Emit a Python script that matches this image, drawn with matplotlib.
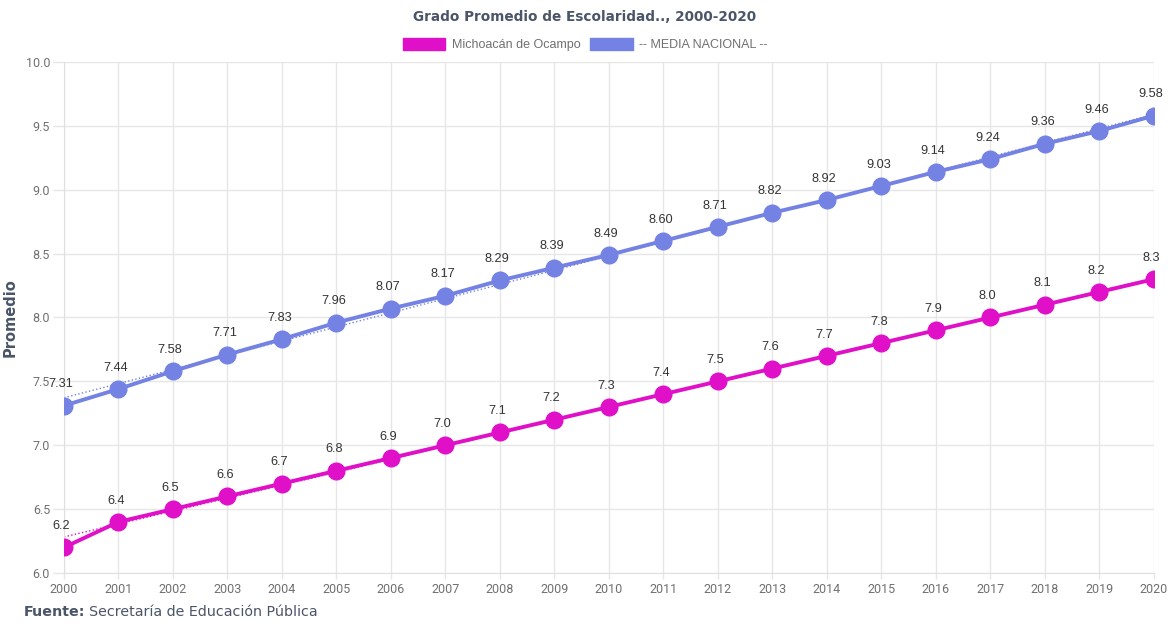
import matplotlib.pyplot as plt
import numpy as np
from matplotlib.patches import Patch

# Data
years = list(range(2000, 2021))
michoacan = [6.2, 6.4, 6.5, 6.6, 6.7, 6.8, 6.9, 7.0, 7.1, 7.2, 7.3,
             7.4, 7.5, 7.6, 7.7, 7.8, 7.9, 8.0, 8.1, 8.2, 8.3]
nacional = [7.31, 7.44, 7.58, 7.71, 7.83, 7.96, 8.07, 8.17, 8.29, 8.39, 8.49,
            8.60, 8.71, 8.82, 8.92, 9.03, 9.14, 9.24, 9.36, 9.46, 9.58]
mich_labels = ['%.1f' % v for v in michoacan]
nac_labels = ['%.2f' % v for v in nacional]

mag = '#e010c8'
blue = '#7482e3'
dark = '#4a5568'
grey = '#707070'

fig = plt.figure(figsize=(11.7, 6.23), dpi=100)
ax = fig.add_axes([0.0547, 0.0803, 0.9316, 0.8202])

x = np.array(years)
for vals, labels, col, name in [(michoacan, mich_labels, mag, 'Michoacán de Ocampo'),
                                (nacional, nac_labels, blue, '-- MEDIA NACIONAL --')]:
    # linear trend (dotted)
    k, b = np.polyfit(x, vals, 1)
    ax.plot(x, k * x + b, color=col, lw=1, ls=':', zorder=2)
    ax.plot(x, vals, color=col, lw=2.8, marker='o', ms=12, zorder=3, label=name)
    for xi, v, t in zip(x, vals, labels):
        ax.annotate(t, (xi, v), xytext=(-2, 11), textcoords='offset points',
                    ha='center', va='bottom', fontsize=9.2, color='#333333',
                    family='Liberation Sans')

ax.set_xlim(2000, 2020)
ax.set_ylim(6.0, 10.0)
ax.set_xticks(years)
ax.set_yticks(np.arange(6.0, 10.01, 0.5))
ax.set_yticklabels(['%.1f' % t for t in np.arange(6.0, 10.01, 0.5)])
ax.tick_params(axis='both', colors='#e6e6e6', labelcolor=grey, labelsize=9, width=1)
ax.tick_params(axis='x', length=4, pad=3)
ax.tick_params(axis='y', length=8, pad=2)
for lab in ax.get_xticklabels() + ax.get_yticklabels():
    lab.set_family('Roboto')
ax.grid(True, color='#e6e6e6', lw=1)
for s in ax.spines.values():
    s.set_visible(False)
ax.spines['bottom'].set_visible(True)
ax.spines['bottom'].set_color('#e0e0e0')
ax.spines['left'].set_visible(True)
ax.spines['left'].set_color('#e0e0e0')
ax.set_axisbelow(True)

ax.set_ylabel('Promedio', fontsize=10.5, fontweight='bold', color=dark, family='DejaVu Sans', labelpad=6)

fig.text(0.5, 0.972, 'Grado Promedio de Escolaridad.., 2000-2020', ha='center', va='center',
         fontsize=9.8, fontweight='bold', color=dark, family='DejaVu Sans')

# legend boxes
handles = [Patch(facecolor=mag, edgecolor=mag), Patch(facecolor=blue, edgecolor=blue)]
fig.legend(handles, ['Michoacán de Ocampo', '-- MEDIA NACIONAL --'], loc='center',
           bbox_to_anchor=(0.5, 0.928), ncol=2, frameon=False,
           labelcolor=grey, handlelength=3.4, handleheight=1.0, handletextpad=0.5,
           columnspacing=0.8, prop={'family': 'Liberation Sans', 'size': 9})

# footer
t1 = fig.text(0.0205, 0.006, 'Fuente:', fontsize=10.3, fontweight='bold', color=dark,
              family='DejaVu Sans', ha='left', va='bottom')
fig.canvas.draw()
bb = t1.get_window_extent().transformed(fig.transFigure.inverted())
fig.text(bb.x1 + 0.003, 0.006, 'Secretaría de Educación Pública', fontsize=10.3, color=dark,
         family='DejaVu Sans', ha='left', va='bottom')

fig.savefig('out.png', dpi=100)
